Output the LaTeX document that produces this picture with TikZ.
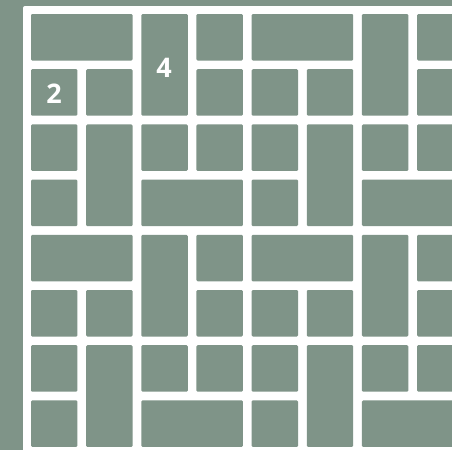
\documentclass[tikz,border=0pt]{standalone}
\usepackage{fontspec}
\newfontfamily\tilefont{Open Sans}
\usepackage{xcolor}
\usepackage{tikz}
\definecolor{sage}{HTML}{7F9488}

\begin{document}
\begin{tikzpicture}[
    x=1pt, y=-1pt,
    tile/.style={fill=sage, rounded corners=1.2pt},
    num/.style={text=white, font=\tilefont\bfseries\fontsize{27}{27}\selectfont, inner sep=0pt}
]
\clip (0,0) rectangle (452,450);
\fill[sage] (0,0) rectangle (452,450);
\fill[white, rounded corners=2pt] (23,6) rectangle (470,470);

% two identical bands of four rows
\foreach \b in {0,4} {
  \foreach \c/\r/\w/\h in {0/0/2/1, 2/0/1/2, 3/0/1/1, 4/0/2/1, 6/0/1/2, 7/0/1/1,
                           0/1/1/1, 1/1/1/1, 3/1/1/1, 4/1/1/1, 5/1/1/1, 7/1/1/1,
                           0/2/1/1, 1/2/1/2, 2/2/1/1, 3/2/1/1, 4/2/1/1, 5/2/1/2, 6/2/1/1, 7/2/1/1,
                           0/3/1/1, 2/3/2/1, 4/3/1/1, 6/3/2/1}
    \fill[tile] ({31+55.15*\c},{14+55.2*(\r+\b)}) rectangle +({55.15*\w-8.7},{55.2*\h-8.7});
}

\node[num] (two) at (54,94) {2};
\node[num] (four) at (164,68) {4};
\end{tikzpicture}
\end{document}
